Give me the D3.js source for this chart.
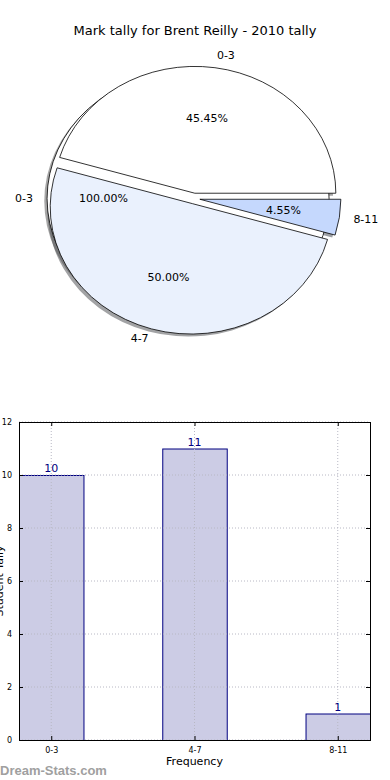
<!DOCTYPE html>
<html><head><meta charset="utf-8">
<script src="https://cdn.jsdelivr.net/npm/d3@7"></script>
<style>
html,body{margin:0;padding:0;background:#fff;}
svg{display:block;font-family:"DejaVu Sans",sans-serif;}
</style></head>
<body><svg id="c" width="390" height="780"></svg>
<script>
// ---- data ----
const title = "Mark tally for Brent Reilly - 2010 tally";
const categories = ["0-3", "4-7", "8-11"];
const counts = [10, 11, 1];
const pieColors = ["#ffffff", "#eaf1fd", "#c5d8fd"];
const fullPieLabels = ["0-3"];
const fullPieValues = [1];
const yTicks = [0, 2, 4, 6, 8, 10, 12];
const xLabel = "Frequency";
const yLabel = "Student Tally";
const watermark = "Dream-Stats.com";

const svg = d3.select("#c");

svg.append("text").attr("x", 195).attr("y", 35).attr("text-anchor", "middle")
  .attr("font-size", 13).attr("fill", "#000").text(title);

// ---- pie ----
const cx = 194, cy = 198.5, rx = 141, ry = 127, explode = 0.042;
const pieGen = d3.pie().sort(null).startAngle(Math.PI / 2).endAngle(Math.PI / 2 - 2 * Math.PI);
const arcUnit = d3.arc().innerRadius(0).outerRadius(1);

function buildSlices(labels, values, colors) {
  const tot = d3.sum(values);
  return pieGen(values).map((d, i) => {
    const phi = Math.PI / 2 - (d.startAngle + d.endAngle) / 2; // mpl angle
    const ox = explode * rx * Math.cos(phi), oy = -explode * ry * Math.sin(phi);
    return {d, phi, ox, oy, label: labels[i], pct: (100 * values[i] / tot).toFixed(2) + "%", color: colors[i]};
  });
}
const fullSlices = buildSlices(fullPieLabels, fullPieValues, ["#ffffff"]);
const slices = buildSlices(categories, counts, pieColors);
const allSlices = fullSlices.concat(slices);

const pieG = svg.append("g");
// shadows
pieG.selectAll("path.sh").data(allSlices).join("path").attr("class", "sh")
  .attr("transform", s => `translate(${cx + s.ox - 0.02 * rx},${cy + s.oy + 0.02 * ry}) scale(${rx},${ry})`)
  .attr("d", s => arcUnit(s.d))
  .attr("fill", s => { const c = d3.rgb(s.color); return d3.rgb(c.r * 0.3, c.g * 0.3, c.b * 0.3); })
  .attr("fill-opacity", 0.5).attr("stroke", "none");
// wedges
pieG.selectAll("path.w").data(allSlices).join("path").attr("class", "w")
  .attr("transform", s => `translate(${cx + s.ox},${cy + s.oy}) scale(${rx},${ry})`)
  .attr("d", s => arcUnit(s.d))
  .attr("fill", s => s.color).attr("stroke", "#000").attr("stroke-width", 0.8)
  .attr("vector-effect", "non-scaling-stroke").attr("stroke-linejoin", "round");
// labels
allSlices.forEach(s => {
  const lx = cx + s.ox + 1.1 * rx * Math.cos(s.phi);
  const ly = cy + s.oy - 1.1 * ry * Math.sin(s.phi);
  pieG.append("text").attr("x", lx).attr("y", ly).attr("dy", "0.35em")
    .attr("text-anchor", Math.cos(s.phi) >= 0 ? "start" : "end")
    .attr("font-size", 11).text(s.label);
  const px = cx + s.ox + 0.6 * rx * Math.cos(s.phi);
  const py = cy + s.oy - 0.6 * ry * Math.sin(s.phi);
  pieG.append("text").attr("x", px).attr("y", py).attr("dy", "0.35em")
    .attr("text-anchor", "middle").attr("font-size", 11).text(s.pct);
});

// ---- bar chart ----
const L = 19, R = 370, T = 422, B = 740;
const x = d3.scaleLinear().domain([-0.225, 2.225]).range([L, R]);
const y = d3.scaleLinear().domain([0, 12]).range([B, T]);
const bw = 0.45;
const g = svg.append("g");

// bars
g.selectAll("rect.bar").data(counts).join("rect")
  .attr("x", (d, i) => x(i - bw / 2) + 0.5).attr("width", (d, i) => x(i + bw / 2) - x(i - bw / 2))
  .attr("y", d => y(d) + 0.5).attr("height", d => y(0) - y(d))
  .attr("fill", "#ccccE5").attr("stroke", "#000080").attr("stroke-width", 1);

// grid (drawn above bars, as in matplotlib)
g.selectAll("line.gx").data(categories).join("line")
  .attr("x1", (d, i) => x(i)).attr("x2", (d, i) => x(i)).attr("y1", T).attr("y2", B)
  .attr("stroke", "#b8b8c4").attr("stroke-width", 1).attr("stroke-dasharray", "1,2");
g.selectAll("line.gy").data(yTicks).join("line")
  .attr("x1", L).attr("x2", R).attr("y1", d => y(d)).attr("y2", d => y(d))
  .attr("stroke", "#b8b8c4").attr("stroke-width", 1).attr("stroke-dasharray", "1,2");

// value labels
g.selectAll("text.val").data(counts).join("text")
  .attr("x", (d, i) => x(i)).attr("y", d => y(d) - 3).attr("text-anchor", "middle")
  .attr("font-size", 11).attr("fill", "#000080").text(d => d);

// axes
const yAxisL = d3.axisLeft(y).tickValues(yTicks).tickSizeInner(-4).tickSizeOuter(0).tickPadding(7);
const yAxisR = d3.axisRight(y).tickValues(yTicks).tickSizeInner(-4).tickSizeOuter(0).tickFormat("");
const xAxisB = d3.axisBottom(x).tickValues([0, 1, 2]).tickFormat((d, i) => categories[i])
  .tickSizeInner(-4).tickSizeOuter(0).tickPadding(7);
const xAxisT = d3.axisTop(x).tickValues([0, 1, 2]).tickFormat("").tickSizeInner(-4).tickSizeOuter(0);

g.append("g").attr("transform", `translate(${L},0)`).call(yAxisL);
g.append("g").attr("transform", `translate(${R},0)`).call(yAxisR);
g.append("g").attr("transform", `translate(0,${B})`).call(xAxisB);
g.append("g").attr("transform", `translate(0,${T})`).call(xAxisT);
g.selectAll(".domain").remove();
g.selectAll(".tick line").attr("stroke", "#000");
g.selectAll(".tick text").attr("font-size", 8).attr("font-family", "DejaVu Sans").attr("fill", "#000");
// frame
g.append("rect").attr("x", L + 0.5).attr("y", T + 0.5).attr("width", R - L).attr("height", B - T)
  .attr("fill", "none").attr("stroke", "#000").attr("stroke-width", 1);

g.append("text").attr("x", (L + R) / 2).attr("y", 765).attr("text-anchor", "middle")
  .attr("font-size", 11).text(xLabel);
g.append("text").attr("transform", `translate(3,${(T + B) / 2}) rotate(-90)`)
  .attr("text-anchor", "middle").attr("font-size", 11).text(yLabel);

svg.append("text").attr("x", 0).attr("y", 775).attr("font-size", 13).attr("font-weight", "bold")
  .attr("font-family", "Liberation Sans, sans-serif").attr("fill", "#a0a0a0").text(watermark);
</script></body></html>
